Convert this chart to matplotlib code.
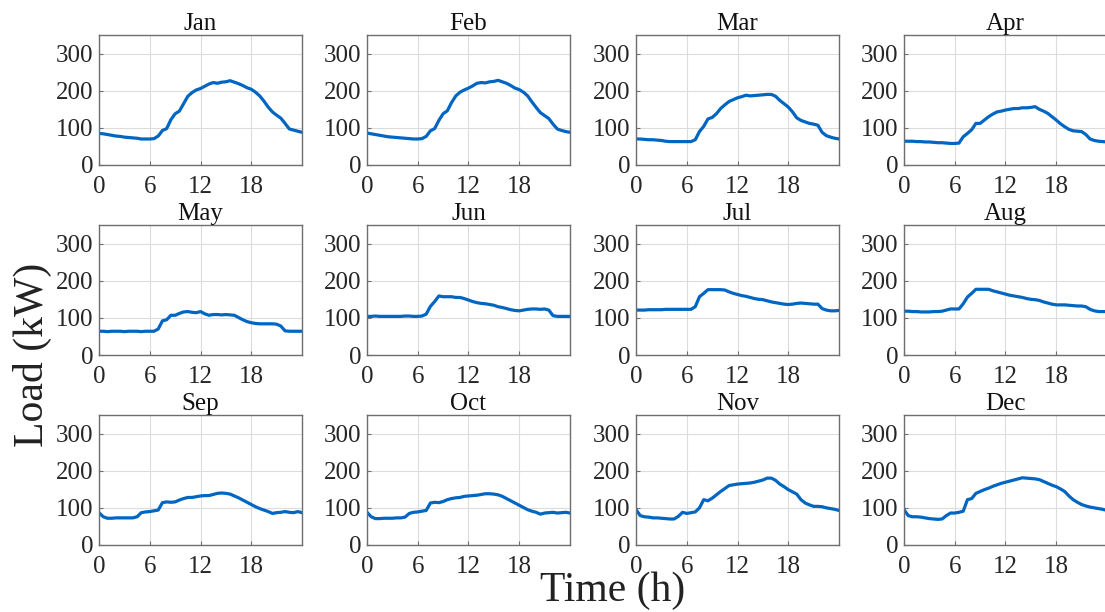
import numpy as np
import matplotlib
matplotlib.use('Agg')
import matplotlib.pyplot as plt

# Average daily load profile for each month, half-hour resolution (kW)
months = ['Jan', 'Feb', 'Mar', 'Apr', 'May', 'Jun',
          'Jul', 'Aug', 'Sep', 'Oct', 'Nov', 'Dec']
hours = np.arange(0, 24.5, 0.5)

jan = [85, 84, 82, 80, 78, 77, 75, 74, 73, 72, 70, 70, 70, 71,
       78, 93, 98, 122, 138, 145, 165, 185, 195, 202, 206, 212, 218, 222,
       220, 223, 224, 227, 223, 219, 214, 208, 204, 196, 186, 172, 156, 143,
       134, 126, 112, 97, 94, 91, 88]
feb = [86, 84, 82, 80, 78, 76, 75, 74, 73, 72, 71, 70, 70, 71,
       77, 92, 98, 120, 138, 146, 168, 186, 196, 202, 207, 213, 220, 222,
       221, 224, 225, 228, 224, 220, 214, 207, 203, 196, 186, 170, 155, 141,
       133, 125, 110, 97, 93, 90, 88]
mar = [70, 70, 69, 68, 68, 67, 66, 64, 63, 63, 63, 63, 63, 63,
       68, 90, 104, 124, 128, 138, 152, 162, 171, 176, 181, 184, 188, 186,
       187, 188, 189, 190, 190, 185, 174, 165, 156, 143, 127, 120, 116, 112,
       110, 107, 88, 79, 75, 72, 70]
apr = [64, 64, 64, 63, 63, 62, 62, 61, 60, 60, 59, 58, 58, 59,
       76, 85, 95, 112, 112, 121, 130, 137, 143, 145, 148, 150, 152, 152,
       154, 154, 155, 157, 150, 145, 139, 130, 121, 111, 103, 96, 92, 91,
       90, 82, 70, 66, 64, 63, 62]
may = [64, 64, 63, 64, 64, 64, 63, 64, 64, 64, 63, 64, 64, 64,
       70, 92, 95, 107, 107, 112, 116, 117, 115, 114, 117, 111, 107, 109,
       109, 108, 109, 108, 107, 101, 95, 90, 87, 85, 84, 84, 84, 84,
       83, 78, 65, 64, 64, 64, 64]
jun = [104, 104, 105, 104, 104, 104, 104, 104, 104, 105, 105, 104, 104, 105,
       110, 131, 144, 159, 157, 157, 157, 155, 155, 152, 148, 144, 141, 139,
       138, 136, 134, 130, 128, 125, 122, 120, 119, 121, 123, 124, 124, 123,
       124, 121, 106, 104, 104, 104, 104]
jul = [121, 121, 121, 122, 122, 122, 122, 123, 123, 123, 123, 123, 123, 123,
       130, 157, 166, 176, 176, 176, 176, 175, 170, 166, 163, 160, 158, 155,
       152, 150, 149, 146, 143, 141, 139, 137, 136, 137, 139, 140, 139, 138,
       137, 137, 125, 121, 119, 119, 120]
aug = [118, 118, 117, 117, 116, 116, 116, 117, 117, 118, 121, 124, 124, 124,
       138, 156, 166, 177, 177, 177, 177, 173, 170, 167, 164, 161, 159, 157,
       155, 152, 150, 149, 147, 143, 140, 137, 135, 135, 135, 134, 133, 132,
       132, 130, 123, 119, 117, 117, 117]
sep = [87, 76, 72, 72, 73, 73, 73, 73, 73, 76, 87, 89, 90, 92,
       94, 114, 116, 115, 116, 121, 125, 128, 128, 130, 132, 133, 133, 136,
       139, 140, 139, 137, 132, 127, 121, 115, 109, 103, 98, 94, 90, 85,
       87, 88, 90, 88, 87, 90, 87]
oct_ = [88, 76, 71, 71, 72, 72, 72, 73, 73, 75, 85, 88, 89, 91,
        93, 113, 115, 114, 117, 122, 125, 127, 128, 131, 132, 133, 134, 136,
        138, 138, 137, 135, 131, 125, 119, 113, 107, 101, 95, 91, 88, 83,
        86, 87, 88, 86, 87, 88, 86]
nov = [95, 79, 76, 75, 73, 73, 72, 71, 70, 70, 77, 88, 85, 87,
       89, 100, 122, 119, 126, 135, 144, 152, 160, 162, 164, 165, 166, 167,
       169, 172, 175, 180, 180, 174, 164, 157, 149, 143, 137, 122, 113, 108,
       104, 104, 103, 100, 98, 96, 93]
dec = [95, 79, 76, 76, 75, 73, 71, 70, 69, 70, 79, 86, 86, 88,
       91, 122, 125, 139, 144, 149, 153, 158, 162, 166, 169, 172, 175, 178,
       181, 180, 179, 178, 176, 171, 166, 161, 157, 151, 144, 132, 122, 115,
       109, 105, 102, 100, 98, 96, 93]

loads = [jan, feb, mar, apr, may, jun, jul, aug, sep, oct_, nov, dec]
xticks = [0, 6, 12, 18]
yticks = [0, 100, 200, 300]

plt.rcParams['font.family'] = ['Liberation Serif', 'DejaVu Serif']

fig = plt.figure(figsize=(11.05, 6.12), dpi=100)

lefts = [0.0896, 0.3321, 0.5756, 0.8181]
bottoms = [0.7304, 0.4199, 0.1095]
w, h = 0.1837, 0.2124

for i, (name, load) in enumerate(zip(months, loads)):
    r, c = divmod(i, 4)
    ax = fig.add_axes([lefts[c], bottoms[r], w, h])
    ax.plot(hours, load, color='#0066C2', linewidth=2.3)
    ax.set_xlim(0, 24)
    ax.set_ylim(0, 350)
    ax.set_xticks(xticks)
    ax.set_yticks(yticks)
    ax.grid(True, color='#dcdcdc', linewidth=0.8)
    ax.set_axisbelow(True)
    for s in ax.spines.values():
        s.set_color('#6e6e6e')
        s.set_linewidth(1.0)
    ax.tick_params(direction='in', length=3, width=0.8, color='#6e6e6e',
                   labelsize=18, labelcolor='#262626')
    ax.tick_params(axis='x', pad=8)
    ax.tick_params(axis='y', pad=4)
    ax.set_title(name, fontsize=18, pad=3, color='#111111')

fig.text(0.554, 0.004, 'Time (h)', fontsize=30, ha='center', va='bottom',
         color='#222222')
fig.text(0.029, 0.42, 'Load (kW)', fontsize=30, ha='center', va='center',
         rotation=90, color='#222222')

fig.savefig('out.png', dpi=100)
